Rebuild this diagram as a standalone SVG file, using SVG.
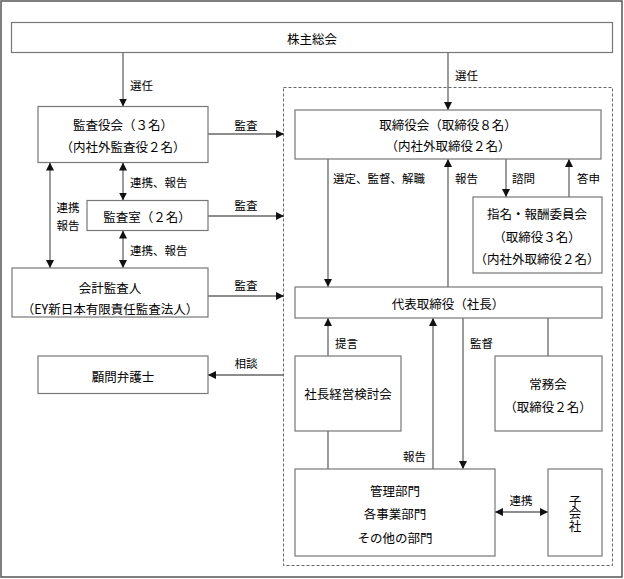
<svg xmlns="http://www.w3.org/2000/svg" width="624" height="579" viewBox="0 0 624 579">
<style>
.box{fill:#fff;stroke:#777;stroke-width:1.2}
.t{font-family:"Noto Sans CJK JP","Noto Sans",sans-serif;font-size:12.5px;fill:#000;text-anchor:middle;dominant-baseline:central}
.l{font-family:"Noto Sans CJK JP","Noto Sans",sans-serif;font-size:11.5px;fill:#000;dominant-baseline:central}
.c{text-anchor:middle}
.ln{stroke:#666;stroke-width:1.3;fill:none}
.v{font-family:"Noto Sans CJK JP","Noto Sans",sans-serif;font-size:12.5px;fill:#000;writing-mode:vertical-rl;text-orientation:upright}
</style>
<defs>
<marker id="a" viewBox="0 0 10 10" refX="10" refY="5" markerWidth="8" markerHeight="8" markerUnits="userSpaceOnUse" orient="auto-start-reverse"><path d="M0,0L10,5L0,10z" fill="#111"/></marker>
</defs>
<rect x="1" y="1" width="621" height="576" fill="#fff" stroke="#555" stroke-width="1.5"/>
<rect x="283.5" y="87.5" width="329" height="478" fill="none" stroke="#666" stroke-width="1" stroke-dasharray="3,2"/>

<g id="connectors">
<line class="ln" x1="123" y1="53" x2="123" y2="106.5" marker-end="url(#a)"/>
<line class="ln" x1="448" y1="53" x2="448" y2="110" marker-end="url(#a)"/>
<line class="ln" x1="208" y1="134" x2="284" y2="134" marker-end="url(#a)"/>
<line class="ln" x1="208" y1="216" x2="284" y2="216" marker-end="url(#a)"/>
<line class="ln" x1="208" y1="296" x2="284" y2="296" marker-end="url(#a)"/>
<line class="ln" x1="284" y1="375" x2="208" y2="375" marker-end="url(#a)"/>
<line class="ln" x1="50" y1="162.5" x2="50" y2="268" marker-start="url(#a)" marker-end="url(#a)"/>
<line class="ln" x1="123" y1="162.5" x2="123" y2="200.5" marker-start="url(#a)" marker-end="url(#a)"/>
<line class="ln" x1="123" y1="230.5" x2="123" y2="268" marker-start="url(#a)" marker-end="url(#a)"/>
<line class="ln" x1="328" y1="159" x2="328" y2="287" marker-end="url(#a)"/>
<line class="ln" x1="448" y1="287" x2="448" y2="159" marker-end="url(#a)"/>
<line class="ln" x1="506" y1="159" x2="506" y2="197" marker-end="url(#a)"/>
<line class="ln" x1="569" y1="197" x2="569" y2="159" marker-end="url(#a)"/>
<line class="ln" x1="328" y1="356" x2="328" y2="318" marker-end="url(#a)"/>
<line class="ln" x1="433" y1="469" x2="433" y2="318" marker-end="url(#a)"/>
<line class="ln" x1="463" y1="318" x2="463" y2="469" marker-end="url(#a)"/>
<line class="ln" x1="548" y1="318" x2="548" y2="356"/>
<line class="ln" x1="328" y1="431" x2="328" y2="469"/>
<line class="ln" x1="495" y1="512" x2="548" y2="512" marker-start="url(#a)" marker-end="url(#a)"/>
<text class="l" x="130" y="85">選任</text>
<text class="l" x="455" y="75">選任</text>
<text class="l c" x="246" y="125">監査</text>
<text class="l c" x="246" y="205">監査</text>
<text class="l c" x="246" y="285">監査</text>
<text class="l c" x="246" y="363">相談</text>
<text class="l c" x="68" y="207">連携</text>
<text class="l c" x="68" y="224.5">報告</text>
<text class="l" x="130" y="182">連携、報告</text>
<text class="l" x="130" y="250">連携、報告</text>
<text class="l" x="333" y="178">選定、監督、解職</text>
<text class="l" x="455" y="178">報告</text>
<text class="l" x="512" y="178">諮問</text>
<text class="l" x="577" y="178">答申</text>
<text class="l" x="335" y="343">提言</text>
<text class="l" x="470" y="343">監督</text>
<text class="l" x="403" y="456">報告</text>
<text class="l c" x="521" y="500">連携</text>
</g>

<g id="kabunushi"><rect class="box" x="11.5" y="22.5" width="601" height="30"/><text class="t" x="312" y="38">株主総会</text></g>
<g id="kansayakukai"><rect class="box" x="38" y="106.5" width="170" height="56"/><text class="t" x="123" y="124">監査役会（３名）</text><text class="t" x="123" y="146">（内社外監査役２名）</text></g>
<g id="kansashitsu"><rect class="box" x="87" y="200.5" width="121" height="30"/><text class="t" x="147" y="216">監査室（２名）</text></g>
<g id="kaikei"><rect class="box" x="12" y="268" width="196" height="49"/><text class="t" x="110" y="287">会計監査人</text><text class="t" x="110" y="308">（EY新日本有限責任監査法人）</text></g>
<g id="komon"><rect class="box" x="38" y="356" width="170" height="37.5"/><text class="t" x="123" y="376">顧問弁護士</text></g>
<g id="torishimariyakukai"><rect class="box" x="295" y="110" width="306" height="49"/><text class="t" x="448" y="124">取締役会（取締役８名）</text><text class="t" x="448" y="145">（内社外取締役２名）</text></g>
<g id="shimei"><rect class="box" x="473" y="197" width="129" height="76"/><text class="t" x="537" y="213">指名・報酬委員会</text><text class="t" x="537" y="236">（取締役３名）</text><text class="t" x="537" y="258">（内社外取締役２名）</text></g>
<g id="daihyo"><rect class="box" x="295" y="287" width="307" height="31"/><text class="t" x="448" y="303">代表取締役（社長）</text></g>
<g id="keiei"><rect class="box" x="295" y="356" width="106" height="75"/><text class="t" x="348" y="393">社長経営検討会</text></g>
<g id="jomukai"><rect class="box" x="495" y="356" width="107" height="75"/><text class="t" x="548" y="383">常務会</text><text class="t" x="548" y="406">（取締役２名）</text></g>
<g id="kanri"><rect class="box" x="295" y="469" width="200" height="87"/><text class="t" x="395" y="490">管理部門</text><text class="t" x="395" y="513">各事業部門</text><text class="t" x="395" y="537">その他の部門</text></g>
<g id="kogaisha"><rect class="box" x="548" y="469" width="54" height="87"/><text class="v" x="575" y="494.5">子会社</text></g>
</svg>
